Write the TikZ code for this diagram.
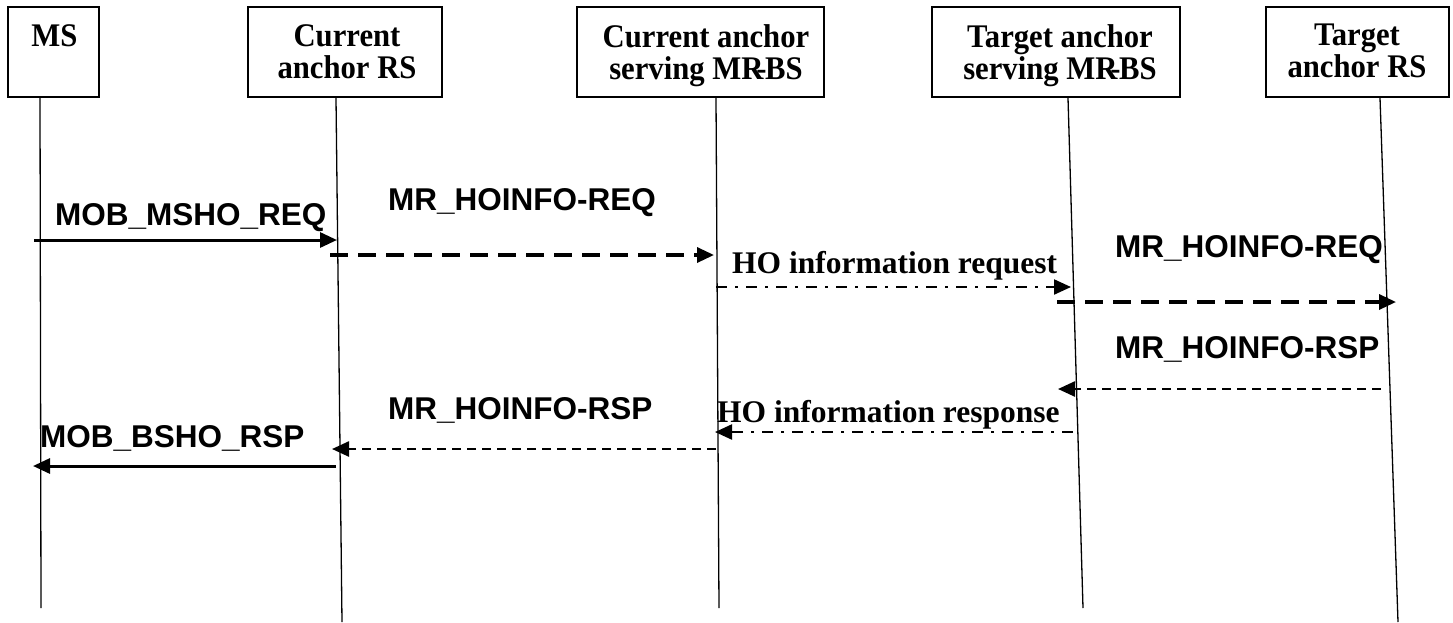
\documentclass[tikz,border=0pt]{standalone}
\usepackage{fontspec}
\setmainfont{Liberation Serif}
\newfontfamily\arialfont{Liberation Sans}
\newfontfamily\boxfont[FakeStretch=0.93]{Liberation Serif}
\usetikzlibrary{arrows.meta}
\begin{document}
\begin{tikzpicture}[x=1pt,y=-1pt,
  entity/.style={draw,line width=1.4pt,inner sep=0pt,minimum height=90pt},
  etext/.style={inner sep=0pt,anchor=north,align=center,font=\boxfont\fontsize{33}{32}\selectfont\bfseries},
  msglabel/.style={inner sep=0pt,anchor=base west,font=\arialfont\fontsize{31.5}{32}\selectfont\bfseries},
  holabel/.style={inner sep=0pt,anchor=base west,font=\fontsize{31.5}{32}\selectfont\bfseries},
  lifeline/.style={line width=1.3pt},
  tip/.style={-{Triangle[length=17pt,width=15pt]}},
  solidmsg/.style={tip,line width=3pt},
  longdash/.style={tip,line width=3.3pt,dash pattern=on 18pt off 10pt},
  shortdash/.style={tip,line width=2.5pt,dash pattern=on 9pt off 6pt},
  dashdot/.style={tip,line width=2.2pt,dash pattern=on 11pt off 8pt on 3pt off 8pt}]
\useasboundingbox (0,0) rectangle (1453,622);
% entity boxes
\node[entity,minimum width=91pt] (ms) at (53.5,52) {};
\node[entity,minimum width=194pt] (crs) at (345,52) {};
\node[entity,minimum width=247pt] (cbs) at (700.5,52) {};
\node[entity,minimum width=248pt] (tbs) at (1056,52) {};
\node[entity,minimum width=183pt] (trs) at (1357.5,52) {};
\node[etext] (mst) at (54.5,24) {MS};
\node[etext] (crst) at (347,24) {Current\\anchor RS};
\node[etext] (cbst) at (706,24) {Current anchor\\serving MR\kern-0.22em-\kern-0.04emBS};
\node[etext] (tbst) at (1060,24) {Target anchor\\serving MR\kern-0.22em-\kern-0.04emBS};
\node[etext] (trst) at (1357,24) {Target\\anchor RS};
% lifelines
\coordinate (l1t) at (40,98);   \coordinate (l1b) at (41,608);
\coordinate (l2t) at (336,98);  \coordinate (l2b) at (342,622);
\coordinate (l3t) at (716,98);  \coordinate (l3b) at (719,608);
\coordinate (l4t) at (1068,98); \coordinate (l4b) at (1083,608);
\coordinate (l5t) at (1380,98); \coordinate (l5b) at (1398,622);
\draw[lifeline] (l1t) -- (l1b);
\draw[lifeline] (l2t) -- (l2b);
\draw[lifeline] (l3t) -- (l3b);
\draw[lifeline] (l4t) -- (l4b);
\draw[lifeline] (l5t) -- (l5b);
% message end points
\coordinate (a1s) at (34,240);    \coordinate (a1e) at (337,240);
\coordinate (a2s) at (330,255);   \coordinate (a2e) at (714,255);
\coordinate (a3s) at (716,287);   \coordinate (a3e) at (1071,287);
\coordinate (a4s) at (1057,302);  \coordinate (a4e) at (1396,302);
\coordinate (a5s) at (1381,389);  \coordinate (a5e) at (1058,389);
\coordinate (a6s) at (1073,432);  \coordinate (a6e) at (715,432);
\coordinate (a7s) at (716,449);   \coordinate (a7e) at (332,449);
\coordinate (a8s) at (336,466);   \coordinate (a8e) at (33,466);
\draw[solidmsg] (a1s) -- (a1e);
\draw[longdash] (a2s) -- (a2e);
\draw[dashdot] (a3s) -- (a3e);
\draw[longdash] (a4s) -- (a4e);
\draw[shortdash] (a5s) -- (a5e);
\draw[dashdot] (a6s) -- (a6e);
\draw[shortdash] (a7s) -- (a7e);
\draw[solidmsg] (a8s) -- (a8e);
% labels
\node[msglabel] (m1) at (55,225) {MOB\_MSHO\_REQ};
\node[msglabel] (m2) at (388,210) {MR\_HOINFO-REQ};
\node[holabel] (m3) at (732,273) {HO information request};
\node[msglabel] (m4) at (1115,257) {MR\_HOINFO-REQ};
\node[msglabel] (m5) at (1115,358) {MR\_HOINFO-RSP};
\node[holabel] (m6) at (717,422) {HO information response};
\node[msglabel] (m7) at (388,419) {MR\_HOINFO-RSP};
\node[msglabel] (m8) at (40,447) {MOB\_BSHO\_RSP};
\end{tikzpicture}
\end{document}
